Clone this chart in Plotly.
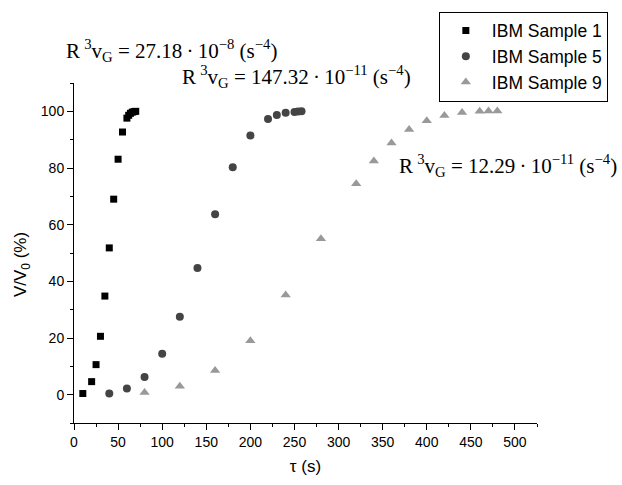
import plotly.graph_objects as go

# ---- data ----
s1_name = "IBM Sample 1"
s1_tau = [10, 20, 25, 30, 35, 40, 45, 50, 55, 60, 62, 64, 66, 68, 70]
s1_v = [0.4, 4.6, 10.6, 20.6, 34.8, 51.8, 69.0, 83.1, 92.7, 97.6, 98.6, 99.3, 99.7, 99.9, 100.0]

s5_name = "IBM Sample 5"
s5_tau = [40, 60, 80, 100, 120, 140, 160, 180, 200, 220, 230, 240, 250, 254, 258]
s5_v = [0.4, 2.2, 6.2, 14.4, 27.5, 44.7, 63.7, 80.3, 91.5, 97.3, 98.7, 99.5, 99.8, 99.9, 100.0]

s9_name = "IBM Sample 9"
s9_tau = [80, 120, 160, 200, 240, 280, 320, 340, 360, 380, 400, 420, 440, 460, 470, 480]
s9_v = [0.8, 3.0, 8.5, 19.0, 35.2, 55.0, 74.4, 82.5, 88.8, 93.6, 96.7, 98.5, 99.6, 100.0, 100.1, 100.1]

TS = "\u2009"  # thin space
ann_texts = [
    f"R{TS}<sup>3</sup>v<sub>G</sub> = 27.18{TS}·{TS}10<sup>−8</sup> (s<sup>−4</sup>)",
    f"R{TS}<sup>3</sup>v<sub>G</sub> = 147.32{TS}·{TS}10<sup>−11</sup> (s<sup>−4</sup>)",
    f"R{TS}<sup>3</sup>v<sub>G</sub> = 12.29{TS}·{TS}10<sup>−11</sup> (s<sup>−4</sup>)",
]
ann_x = [-0.0194, 0.231, 0.700]   # paper coords
ann_y = [1.097, 1.020, 0.7563]

x_title = "τ (s)"
y_title = "V/V<sub>0</sub> (%)"

SANS = "Liberation Sans, Arial, sans-serif"
SERIF = "Liberation Serif, Times New Roman, serif"

fig = go.Figure()
fig.add_trace(go.Scatter(x=s1_tau, y=s1_v, mode="markers", name=s1_name, legendgroup="a",
                         marker=dict(symbol="square", size=7, color="#000000")))
fig.add_trace(go.Scatter(x=s5_tau, y=s5_v, mode="markers", name=s5_name, legendgroup="b",
                         marker=dict(symbol="circle", size=8, color="#444444")))
fig.add_trace(go.Scatter(x=s9_tau, y=s9_v, mode="markers", name=s9_name, legendgroup="c",
                         marker=dict(symbol="triangle-up", size=9, color="#999999")))

for t, x, y in zip(ann_texts, ann_x, ann_y):
    fig.add_annotation(x=x, y=y, xref="paper", yref="paper", text=t, showarrow=False,
                       xanchor="left", yanchor="middle", borderpad=0,
                       font=dict(family=SERIF, size=21, color="black"))

fig.add_annotation(x=-0.112, y=0.465, xref="paper", yref="paper", text=y_title,
                   showarrow=False, textangle=-90, xanchor="center", yanchor="middle",
                   font=dict(family=SANS, size=17, color="black"))

fig.update_layout(
    width=622, height=485,
    margin=dict(l=74, r=85, t=75, b=53),
    paper_bgcolor="white", plot_bgcolor="white",
    showlegend=True,
    legend=dict(x=0.788, y=1.21, xanchor="left", yanchor="top",
                bordercolor="black", borderwidth=1, bgcolor="white",
                font=dict(family=SANS, size=17.5, color="black"),
                tracegroupgap=0, itemwidth=42),
    xaxis=dict(range=[0, 525], tick0=0, dtick=50, showline=True, linecolor="black", linewidth=1,
               ticks="outside", ticklen=6, tickcolor="black", showgrid=False, zeroline=False,
               minor=dict(dtick=25, ticks="outside", ticklen=3, tickcolor="black"),
               tickfont=dict(family=SANS, size=14, color="black"),
               title=dict(text=x_title, font=dict(family=SANS, size=17, color="black"), standoff=11)),
    yaxis=dict(range=[-10, 110], tick0=0, dtick=20, showline=True, linecolor="black", linewidth=1,
               ticks="outside", ticklen=6, tickcolor="black", showgrid=False, zeroline=False,
               minor=dict(dtick=10, ticks="outside", ticklen=3, tickcolor="black"),
               tickfont=dict(family=SANS, size=14, color="black")),
)

fig.write_html("out.html", config={"displayModeBar": False},
               post_script="document.body.style.margin='0';")
